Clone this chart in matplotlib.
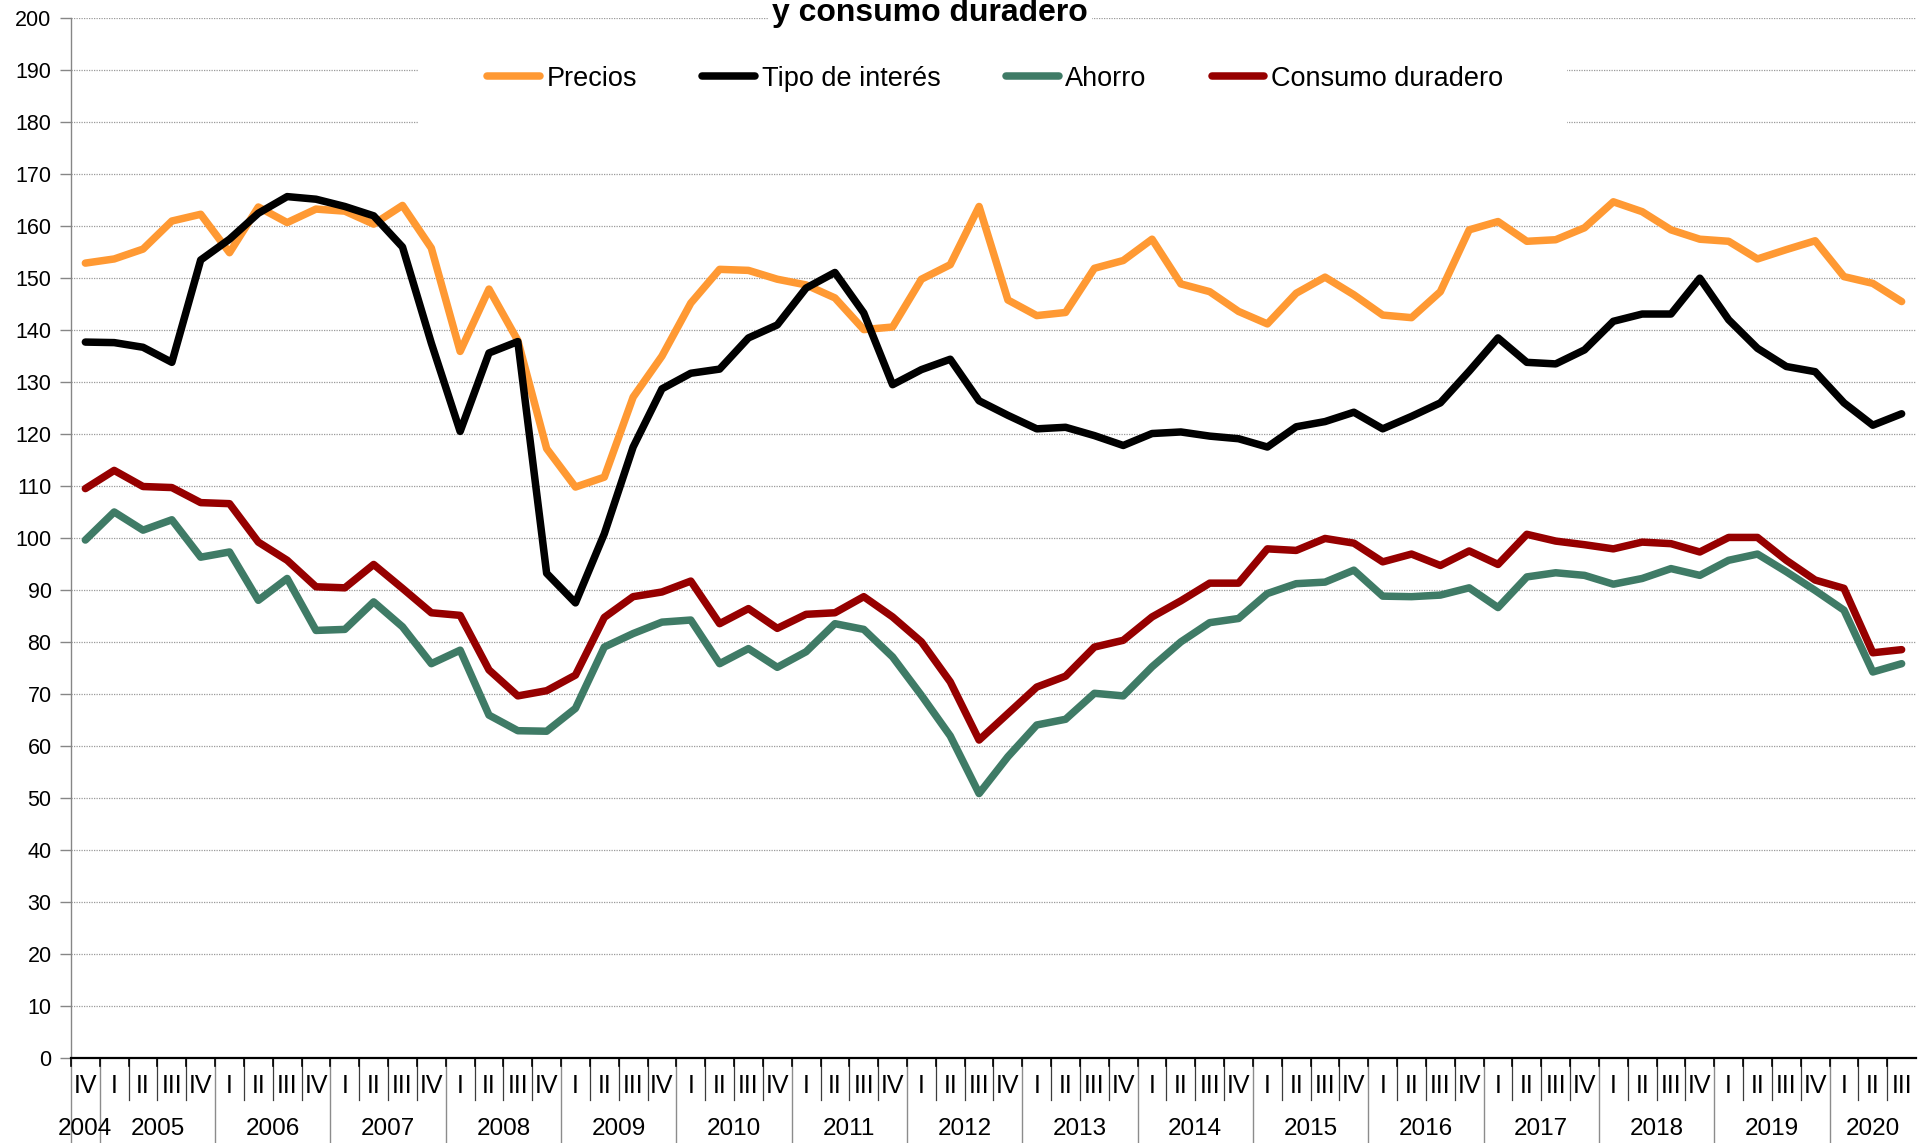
import matplotlib
matplotlib.use("Agg")
import matplotlib.pyplot as plt
from matplotlib.patches import Rectangle

plt.rcParams['font.family'] = ['Liberation Sans', 'DejaVu Sans']

# ---------------- data ----------------
quarters = ['IV',
            'I', 'II', 'III', 'IV', 'I', 'II', 'III', 'IV', 'I', 'II', 'III', 'IV',
            'I', 'II', 'III', 'IV', 'I', 'II', 'III', 'IV', 'I', 'II', 'III', 'IV',
            'I', 'II', 'III', 'IV', 'I', 'II', 'III', 'IV', 'I', 'II', 'III', 'IV',
            'I', 'II', 'III', 'IV', 'I', 'II', 'III', 'IV', 'I', 'II', 'III', 'IV',
            'I', 'II', 'III', 'IV', 'I', 'II', 'III', 'IV', 'I', 'II', 'III', 'IV',
            'I', 'II', 'III']
years = ['2004', '2005', '2006', '2007', '2008', '2009', '2010', '2011', '2012',
         '2013', '2014', '2015', '2016', '2017', '2018', '2019', '2020']
quarters_per_year = [1, 4, 4, 4, 4, 4, 4, 4, 4, 4, 4, 4, 4, 4, 4, 4, 3]

precios = [152.9, 153.7, 155.6, 161.0, 162.3, 154.9, 163.7, 160.7, 163.3, 162.9,
           160.4, 164.0, 155.8, 135.9, 147.9, 138.0, 117.2, 109.8, 111.7, 127.1,
           135.0, 145.2, 151.7, 151.5, 149.8, 148.7, 146.2, 140.1, 140.6, 149.8,
           152.6, 163.8, 145.8, 142.8, 143.4, 151.9, 153.4, 157.5, 148.9, 147.4,
           143.6, 141.2, 147.1, 150.2, 146.8, 142.9, 142.4, 147.4, 159.3, 160.9,
           157.1, 157.4, 159.7, 164.7, 162.8, 159.3, 157.5, 157.1, 153.7, 155.5,
           157.2, 150.3, 149.0, 145.5]
tipo_interes = [137.7, 137.6, 136.7, 133.8, 153.5, 157.5, 162.5, 165.7, 165.2, 163.8,
                162.0, 156.0, 137.5, 120.5, 135.6, 137.8, 93.2, 87.5, 100.8, 117.5,
                128.7, 131.7, 132.5, 138.5, 141.0, 148.1, 151.1, 143.3, 129.5, 132.4,
                134.4, 126.4, 123.6, 121.0, 121.3, 119.7, 117.8, 120.1, 120.4, 119.6,
                119.1, 117.5, 121.4, 122.4, 124.2, 121.0, 123.4, 126.0, 132.1, 138.5,
                133.8, 133.5, 136.2, 141.7, 143.1, 143.1, 150.0, 142.0, 136.5, 133.0,
                132.0, 126.0, 121.7, 123.9]
ahorro = [99.6, 105.0, 101.5, 103.5, 96.3, 97.3, 88.0, 92.2, 82.2, 82.4,
          87.7, 82.9, 75.8, 78.4, 65.9, 62.9, 62.8, 67.2, 79.0, 81.6,
          83.8, 84.2, 75.8, 78.7, 75.1, 78.1, 83.5, 82.4, 77.1, 69.7,
          61.9, 50.8, 57.9, 64.0, 65.1, 70.1, 69.6, 75.2, 80.0, 83.7,
          84.5, 89.3, 91.2, 91.5, 93.8, 88.8, 88.7, 89.0, 90.4, 86.6,
          92.5, 93.3, 92.8, 91.1, 92.2, 94.1, 92.8, 95.7, 96.9, 93.5,
          89.9, 86.1, 74.2, 75.8]
consumo_duradero = [109.5, 113.0, 109.9, 109.7, 106.8, 106.6, 99.2, 95.7, 90.6, 90.4,
                    94.9, 90.3, 85.6, 85.1, 74.6, 69.6, 70.6, 73.6, 84.7, 88.7,
                    89.6, 91.7, 83.5, 86.4, 82.6, 85.3, 85.6, 88.7, 84.8, 80.0,
                    72.3, 61.1, 66.2, 71.3, 73.4, 79.0, 80.3, 84.8, 87.9, 91.3,
                    91.3, 97.9, 97.6, 99.9, 99.0, 95.4, 96.9, 94.7, 97.5, 94.9,
                    100.7, 99.4, 98.7, 97.9, 99.2, 98.9, 97.3, 100.1, 100.1, 95.7,
                    91.9, 90.3, 77.9, 78.5]

series_names = ['Precios', 'Tipo de interés', 'Ahorro', 'Consumo duradero']
series_colors = ['#FF9933', '#000000', '#3F7B66', '#960000']

# ---------------- figure ----------------
fig = plt.figure(figsize=(19.28, 11.43), dpi=100)
ax = fig.add_axes([0.0368, 0.0748, 0.9570, 0.9091])

x = list(range(len(quarters)))
for vals, name, col in zip([precios, tipo_interes, ahorro, consumo_duradero],
                           series_names, series_colors):
    ax.plot(x, vals, color=col, lw=5.4, label=name, zorder=3,
            solid_capstyle='round', solid_joinstyle='round')

ax.set_xlim(-0.5, len(quarters) - 0.5)
ax.set_ylim(0, 200)
ax.set_yticks(range(0, 201, 10))
ax.set_xticks([])
ax.yaxis.grid(True, linestyle=(0, (1, 1)), color='#9a9a9a', lw=0.9)
ax.set_axisbelow(True)
for s in ['top', 'right']:
    ax.spines[s].set_visible(False)
ax.spines['left'].set_color('#868686')
ax.spines['left'].set_linewidth(1.0)
ax.spines['bottom'].set_color('black')
ax.spines['bottom'].set_linewidth(1.6)
ax.tick_params(axis='y', length=8, width=1, color='#868686', labelsize=15.5, pad=6)

# white box behind legend
ax.add_patch(Rectangle((0.188, 0.875), 0.623, 0.11, transform=ax.transAxes,
                       facecolor='white', edgecolor='none', zorder=1))

leg = ax.legend(loc='center', bbox_to_anchor=(0.501, 0.942), ncol=4, frameon=False,
                fontsize=19.5, handlelength=1.95, handletextpad=0.25,
                columnspacing=2.4)
for h in leg.get_lines():
    h.set_linewidth(5.4)
    h.set_solid_capstyle('round')

# category axis: quarter labels, year labels and separators
trans = ax.get_xaxis_transform()
for i, q in enumerate(quarters):
    ax.text(i, -0.027, q, transform=trans, ha='center', va='center', fontsize=18)

boundaries = [0]
for n in quarters_per_year:
    boundaries.append(boundaries[-1] + n)
start = 0
for yr, n in zip(years, quarters_per_year):
    ax.text(start + (n - 1) / 2, -0.0685, yr, transform=trans, ha='center',
            va='center', fontsize=17.5)
    start += n

for b in range(len(quarters)):
    xb = b - 0.5
    if b in boundaries:
        ax.plot([xb, xb], [0, -0.1], transform=trans, color='#8c8c8c', lw=1.0,
                clip_on=False)
    else:
        ax.plot([xb, xb], [0, -0.041], transform=trans, color='#3c3c3c', lw=0.9,
                clip_on=False)
    ax.plot([xb, xb], [0, -0.008], transform=trans, color='black', lw=1.2,
            clip_on=False)

fig.text(0.4825, 0.9816, 'y consumo duradero', ha='center', va='baseline',
         fontsize=23, fontweight='bold',
         bbox=dict(facecolor='white', edgecolor='none', pad=3))

fig.savefig('out.png', dpi=100)
